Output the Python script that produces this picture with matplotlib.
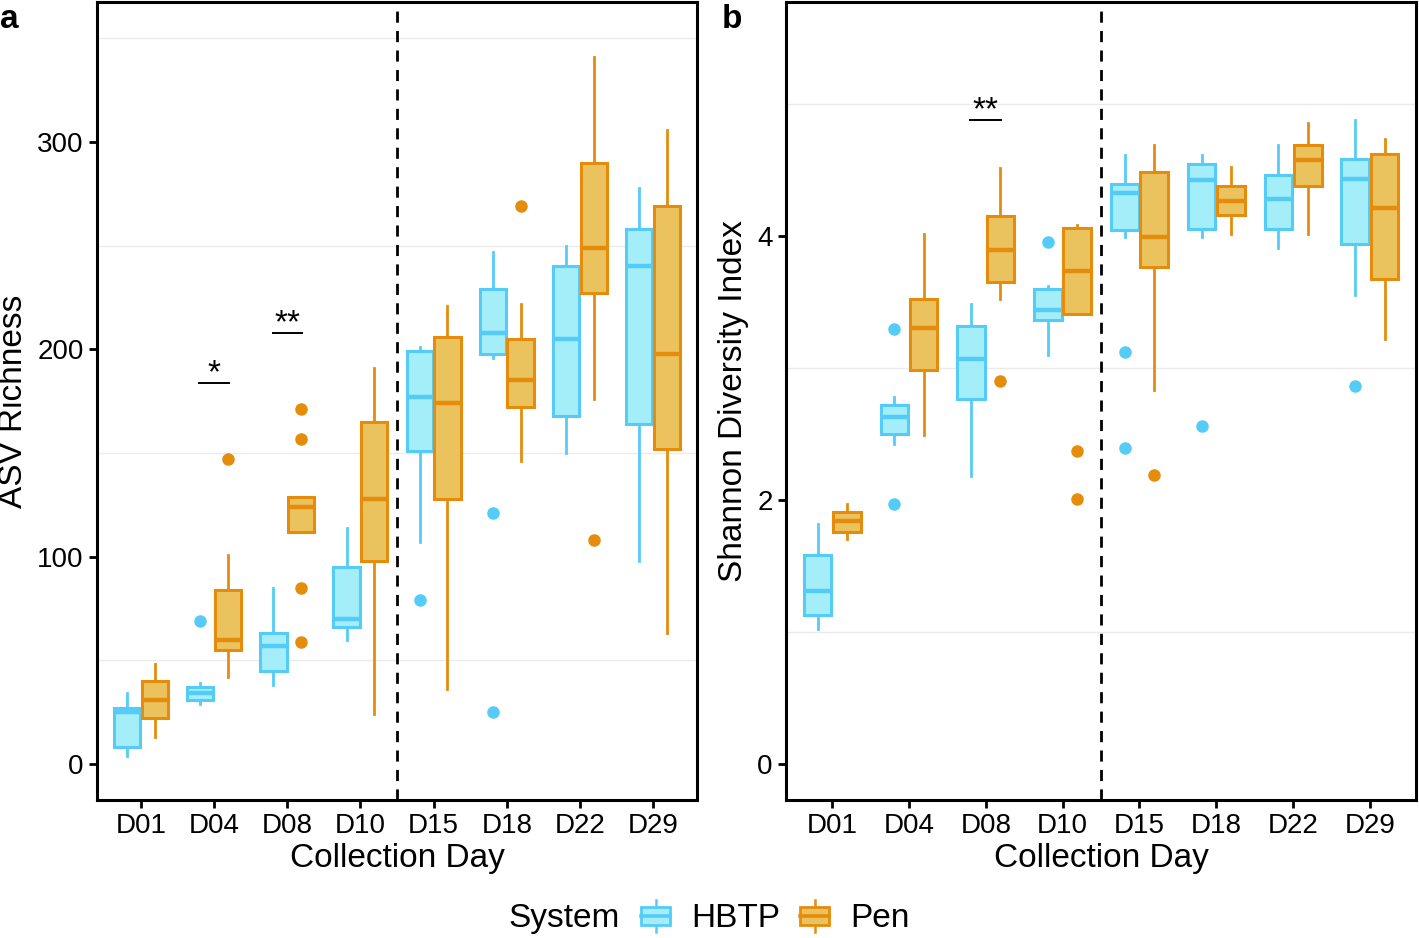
import numpy as np
import matplotlib
matplotlib.use('Agg')
import matplotlib.pyplot as plt
from matplotlib.legend_handler import HandlerBase
from matplotlib.patches import Rectangle
from matplotlib.lines import Line2D

plt.rcParams['font.family'] = ['Liberation Sans', 'DejaVu Sans']

days = ['D01', 'D04', 'D08', 'D10', 'D15', 'D18', 'D22', 'D29']
systems = ['HBTP', 'Pen']

# ASV richness (panel a): whisker low, q1, median, q3, whisker high, outliers
asv_hbtp_lo = [4, 29, 38, 60, 107, 196, 150, 98]
asv_hbtp_q1 = [8, 31, 45, 66, 151, 198, 168, 164]
asv_hbtp_med = [25, 34, 57, 70, 177, 208, 205, 240]
asv_hbtp_q3 = [27, 37, 63, 95, 199, 229, 240, 258]
asv_hbtp_hi = [34, 39, 85, 114, 201, 247, 250, 278]
asv_hbtp_out = [[], [69], [], [], [79], [121, 25], [], []]

asv_pen_lo = [13, 42, 112, 24, 36, 146, 176, 63]
asv_pen_q1 = [22, 55, 112, 98, 128, 172, 227, 152]
asv_pen_med = [31, 60, 124, 128, 174, 185, 249, 198]
asv_pen_q3 = [40, 84, 129, 165, 206, 205, 290, 269]
asv_pen_hi = [48, 101, 129, 191, 221, 222, 341, 306]
asv_pen_out = [[], [147], [171, 157, 85, 59], [], [], [269], [108], []]

# Shannon diversity (panel b)
sh_hbtp_lo = [1.02, 2.42, 2.18, 3.10, 3.99, 3.99, 3.91, 3.55]
sh_hbtp_q1 = [1.13, 2.50, 2.76, 3.36, 4.04, 4.05, 4.05, 3.94]
sh_hbtp_med = [1.31, 2.63, 3.07, 3.44, 4.32, 4.42, 4.28, 4.43]
sh_hbtp_q3 = [1.58, 2.72, 3.32, 3.60, 4.39, 4.54, 4.46, 4.58]
sh_hbtp_hi = [1.82, 2.78, 3.48, 3.62, 4.61, 4.61, 4.69, 4.88]
sh_hbtp_out = [[], [3.29, 1.97], [], [3.95], [3.12, 2.39], [2.56], [], [2.86]]

sh_pen_lo = [1.70, 2.49, 3.52, 3.41, 2.83, 4.01, 4.01, 3.22]
sh_pen_q1 = [1.76, 2.98, 3.65, 3.41, 3.76, 4.16, 4.38, 3.67]
sh_pen_med = [1.84, 3.30, 3.89, 3.73, 3.99, 4.26, 4.57, 4.21]
sh_pen_q3 = [1.91, 3.52, 4.15, 4.06, 4.48, 4.38, 4.69, 4.62]
sh_pen_hi = [1.97, 4.01, 4.51, 4.08, 4.69, 4.52, 4.85, 4.73]
sh_pen_out = [[], [], [2.90], [2.37, 2.01], [2.19], [], [], []]

# significance marks: (day, label, height)
asv_sig = [('D04', '*', 184), ('D08', '**', 208)]
sh_sig = [('D08', '**', 4.88)]

edge_cols = {'HBTP': '#55CCF7', 'Pen': '#E58C0C'}
fill_cols = {'HBTP': '#A4EEFA', 'Pen': '#EBC35E'}


def make_stats(lo, q1, med, q3, hi, out):
  stats = []
  for i in range(len(lo)):
    stats.append({'whislo': lo[i], 'q1': q1[i], 'med': med[i], 'q3': q3[i],
                  'whishi': hi[i], 'fliers': out[i], 'mean': med[i]})
  return stats


def draw_panel(ax, stats_by_sys, ylim, yticks, minor, sig, ylabel):
  x = np.arange(1, len(days) + 1)
  offs = {'HBTP': -0.19, 'Pen': 0.19}
  for s in systems:
    ec = edge_cols[s]
    ax.bxp(stats_by_sys[s], positions=x + offs[s], widths=0.36,
           patch_artist=True, showcaps=False, showmeans=False,
           boxprops=dict(facecolor=fill_cols[s], edgecolor=ec, linewidth=2.2),
           medianprops=dict(color=ec, linewidth=3.2),
           whiskerprops=dict(color=ec, linewidth=2.0),
           flierprops=dict(marker='o', markerfacecolor=ec, markeredgecolor=ec,
                           markersize=8))
  ax.axvline(4.5, color='black', linestyle=(0, (4, 3)), linewidth=2.0, zorder=1)

  for day, lab, h in sig:
    xc = days.index(day) + 1
    ax.plot([xc - 0.2, xc + 0.2], [h, h], color='black', linewidth=1.4)
    ax.annotate(lab, (xc, h), xytext=(0, -5), textcoords='offset points',
                ha='center', va='bottom', fontsize=24)

  ax.set_xlim(0.4, 8.6)
  ax.set_ylim(*ylim)
  ax.set_xticks(x)
  ax.set_xticklabels(days)
  ax.set_yticks(yticks)
  ax.set_yticks(minor, minor=True)
  ax.grid(which='minor', axis='y', color='#EBEBEB', linewidth=1.0)
  ax.set_axisbelow(True)
  ax.tick_params(which='major', length=6, width=2, labelsize=20, colors='black')
  ax.tick_params(which='minor', length=0)
  for sp in ax.spines.values():
    sp.set_linewidth(2.2)
  ax.set_xlabel('Collection Day', fontsize=24, labelpad=3)
  ax.set_ylabel(ylabel, fontsize=24, labelpad=6)


class BoxHandler(HandlerBase):
  def create_artists(self, legend, orig_handle, xdescent, ydescent, width,
                     height, fontsize, trans):
    ec = orig_handle.get_edgecolor()
    fc = orig_handle.get_facecolor()
    cx = width / 2 - xdescent
    y0 = -ydescent
    rect = Rectangle((-xdescent + 1, y0 + height * 0.18), width - 2, height * 0.64,
                     facecolor=fc, edgecolor=ec, linewidth=2.0, transform=trans)
    med = Line2D([-xdescent + 1, -xdescent + width - 1],
                 [y0 + height * 0.5] * 2, color=ec, linewidth=2.6,
                 transform=trans)
    w1 = Line2D([cx, cx], [y0 - height * 0.05, y0 + height * 0.18], color=ec,
                linewidth=1.8, transform=trans)
    w2 = Line2D([cx, cx], [y0 + height * 0.82, y0 + height * 1.05], color=ec,
                linewidth=1.8, transform=trans)
    return [w1, w2, rect, med]


fig = plt.figure(figsize=(14.19, 9.38), dpi=100)
ax1 = fig.add_axes([97 / 1419, 1 - 800 / 938, 600 / 1419, 798 / 938])
ax2 = fig.add_axes([786 / 1419, 1 - 800 / 938, 630 / 1419, 798 / 938])

asv = {'HBTP': make_stats(asv_hbtp_lo, asv_hbtp_q1, asv_hbtp_med, asv_hbtp_q3,
                          asv_hbtp_hi, asv_hbtp_out),
       'Pen': make_stats(asv_pen_lo, asv_pen_q1, asv_pen_med, asv_pen_q3,
                         asv_pen_hi, asv_pen_out)}
sh = {'HBTP': make_stats(sh_hbtp_lo, sh_hbtp_q1, sh_hbtp_med, sh_hbtp_q3,
                         sh_hbtp_hi, sh_hbtp_out),
      'Pen': make_stats(sh_pen_lo, sh_pen_q1, sh_pen_med, sh_pen_q3,
                        sh_pen_hi, sh_pen_out)}

draw_panel(ax1, asv, (-17.4, 367.6), [0, 100, 200, 300], [50, 150, 250, 350],
           asv_sig, 'ASV Richness')
draw_panel(ax2, sh, (-0.273, 5.77), [0, 2, 4], [1, 3, 5],
           sh_sig, 'Shannon Diversity Index')

# panel letters
fig.text(0 / 1419, 1 - 20 / 938, 'a', fontsize=24, fontweight='bold',
         va='center', ha='left')
fig.text(722 / 1419, 1 - 20 / 938, 'b', fontsize=24, fontweight='bold',
         va='center', ha='left')

# legend
handles = [Rectangle((0, 0), 1, 1, facecolor=fill_cols[s], edgecolor=edge_cols[s])
           for s in systems]
fig.text(508 / 1419, 1 - 918 / 938, 'System', fontsize=24, va='center', ha='left')
fig.legend(handles, systems, loc='center left',
           bbox_to_anchor=(623 / 1419, 1 - 918 / 938), ncol=2, frameon=False,
           fontsize=24, borderpad=0, handlelength=0.95, handleheight=0.95,
           handletextpad=0.6, columnspacing=0.55,
           handler_map={Rectangle: BoxHandler()})

fig.savefig('out.png', dpi=100)
